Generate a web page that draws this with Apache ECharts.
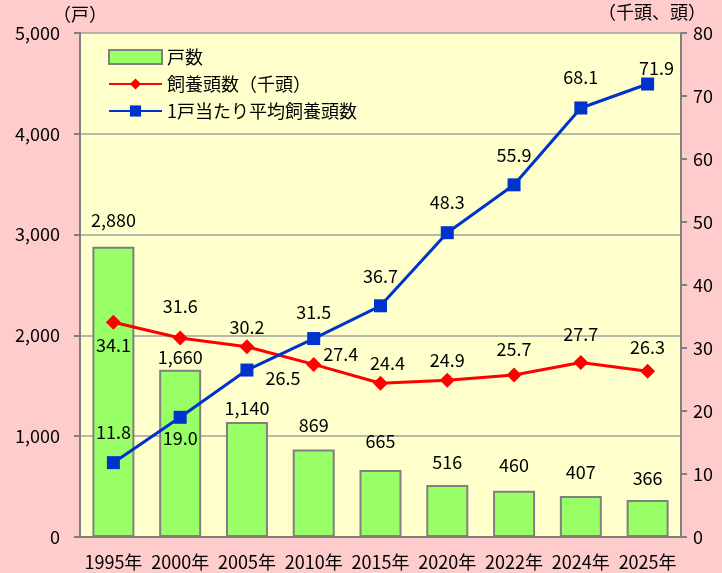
<!DOCTYPE html>
<html>
<head>
<meta charset="utf-8">
<script src="https://cdn.jsdelivr.net/npm/echarts@6/dist/echarts.min.js"></script>
<style>
  html, body { margin: 0; padding: 0; background: #ffcccc; }
  #main { width: 722px; height: 573px; }
</style>
</head>
<body>
<div id="main"></div>
<script>
var myChart = echarts.init(document.getElementById('main'))

// データ
var years = ['1995年', '2000年', '2005年', '2010年', '2015年', '2020年', '2022年', '2024年', '2025年']
var households = [2880, 1660, 1140, 869, 665, 516, 460, 407, 366]
var headCount = [34.1, 31.6, 30.2, 27.4, 24.4, 24.9, 25.7, 27.7, 26.3]
var perHousehold = [11.8, 19.0, 26.5, 31.5, 36.7, 48.3, 55.9, 68.1, 71.9]
var leftTicks = [0, 1000, 2000, 3000, 4000, 5000]
var rightTicks = [0, 10, 20, 30, 40, 50, 60, 70, 80]

// ラベル位置の調整（点からのずれ）
var barLabelDy = [-18, -4, -5, -15, -20, -14, -16, -15, -13]
var redLabelOff = [[0, 23], [0, -32], [0, -20], [27, -10], [7, -20], [0, -20], [0, -26], [0, -28], [0, -24]]
var blueLabelOff = [[0, -31], [0, 21], [36, 8], [0, -26], [0, -30], [0, -31], [0, -30], [0, -31], [9, -16]]

var font = '"Noto Sans CJK JP", "Noto Sans", sans-serif'
var axisColor = '#808080'

function fmtComma (v) {
  return String(v).replace(/\B(?=(\d{3})+(?!\d))/g, ',')
}

var barData = households.map(function (v, i) {
  return { value: v, label: { offset: [0, barLabelDy[i]] } }
})
var redData = headCount.map(function (v, i) {
  return { value: v, label: { offset: redLabelOff[i] } }
})
var blueData = perHousehold.map(function (v, i) {
  return { value: v, label: { offset: blueLabelOff[i] } }
})

var option = {
  backgroundColor: '#ffcccc',
  textStyle: { fontFamily: font },
  animation: false,
  grid: {
    left: 80,
    right: 41,
    top: 33,
    bottom: 36,
    show: true,
    backgroundColor: '#ffffcc',
    borderWidth: 0,
  },
  legend: {
    orient: 'vertical',
    left: 103,
    top: 43,
    itemWidth: 53,
    itemHeight: 14,
    itemGap: 9,
    textStyle: { fontSize: 18, color: '#000', fontFamily: font, lineHeight: 18 },
    data: [{ name: '戸数', icon: 'rect' }, '飼養頭数（千頭）', '1戸当たり平均飼養頭数'],
  },
  xAxis: {
    type: 'category',
    data: years,
    axisLine: { lineStyle: { color: axisColor, width: 2 } },
    axisTick: { show: false },
    axisLabel: { color: '#000', fontSize: 18, margin: 16, interval: 0, fontFamily: font },
  },
  yAxis: [
    {
      type: 'value',
      min: leftTicks[0],
      max: leftTicks[leftTicks.length - 1],
      interval: 1000,
      name: '（戸）',
      nameLocation: 'end',
      nameGap: 10,
      nameTextStyle: { color: '#000', fontSize: 18, align: 'center', fontFamily: font },
      axisLine: { show: true, lineStyle: { color: axisColor, width: 2 } },
      axisTick: { show: true, length: 6, lineStyle: { color: axisColor, width: 2 } },
      axisLabel: { color: '#000', fontSize: 18, margin: 20, formatter: fmtComma, fontFamily: font },
      splitLine: { lineStyle: { color: '#a0a0a0', width: 1.5 } },
    },
    {
      type: 'value',
      min: rightTicks[0],
      max: rightTicks[rightTicks.length - 1],
      interval: 10,
      name: '（千頭、頭）',
      nameLocation: 'end',
      nameGap: 12,
      nameTextStyle: { color: '#000', fontSize: 18, align: 'center', padding: [0, 58, 0, 0], fontFamily: font },
      axisLine: { show: true, lineStyle: { color: axisColor, width: 2 } },
      axisTick: { show: true, length: 6, lineStyle: { color: axisColor, width: 2 } },
      axisLabel: { color: '#000', fontSize: 18, margin: 12, fontFamily: font },
      splitLine: { show: false },
    },
  ],
  series: [
    {
      name: '戸数',
      type: 'bar',
      yAxisIndex: 0,
      barWidth: 42,
      data: barData,
      itemStyle: { color: '#99ff66', borderColor: '#808080', borderWidth: 2 },
      label: {
        show: true,
        position: 'top',
        distance: 0,
        color: '#000',
        fontSize: 18,
        fontFamily: font,
        formatter: function (p) { return fmtComma(p.value) },
      },
    },
    {
      name: '飼養頭数（千頭）',
      type: 'line',
      yAxisIndex: 1,
      data: redData,
      symbol: 'diamond',
      symbolSize: 15,
      lineStyle: { color: '#ff0000', width: 3 },
      itemStyle: { color: '#ff0000' },
      label: {
        show: true,
        position: 'inside',
        color: '#000',
        fontSize: 18,
        fontFamily: font,
        formatter: function (p) { return p.value.toFixed(1) },
      },
    },
    {
      name: '1戸当たり平均飼養頭数',
      type: 'line',
      yAxisIndex: 1,
      data: blueData,
      symbol: 'rect',
      symbolSize: 13,
      lineStyle: { color: '#0033cc', width: 3 },
      itemStyle: { color: '#0033cc' },
      label: {
        show: true,
        position: 'inside',
        color: '#000',
        fontSize: 18,
        fontFamily: font,
        formatter: function (p) { return p.value.toFixed(1) },
      },
    },
  ],
}

myChart.setOption(option)
</script>
</body>
</html>
